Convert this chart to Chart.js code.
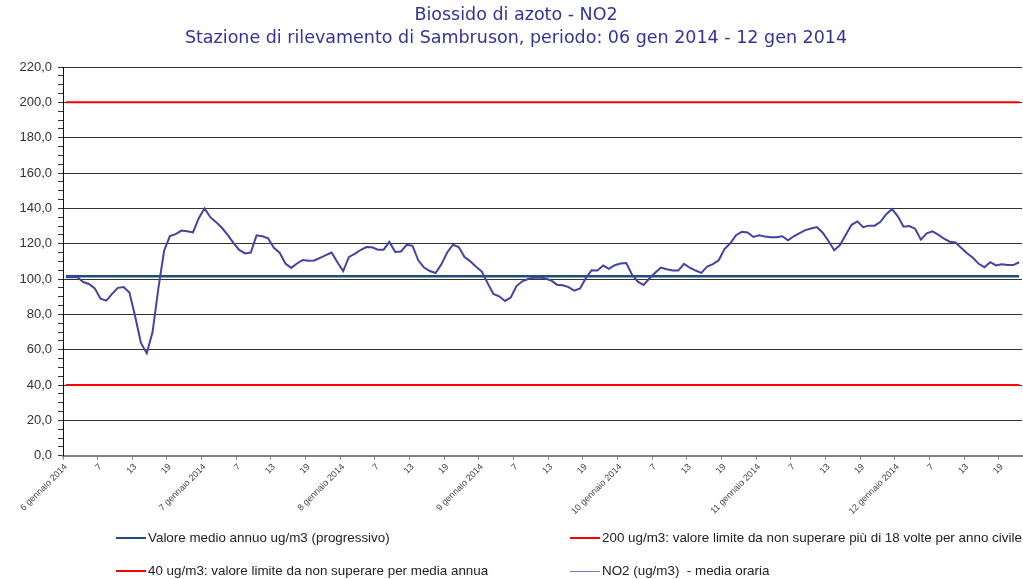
<!DOCTYPE html>
<html>
<head>
<meta charset="utf-8">
<script src="https://cdn.jsdelivr.net/npm/chart.js@4"></script>
<style>
  body { margin: 0; background: #fff; }
  #wrap { position: relative; width: 1023px; height: 579px; overflow: hidden; }
  #title { position: absolute; left: 0; top: 3px; width: 1032px; text-align: center;
           font-family: "DejaVu Sans", sans-serif; font-size: 17.5px; line-height: 23px; color: #333399; }
  .leg { position: absolute; font-family: "Liberation Sans", Arial, sans-serif; font-size: 13.4px;
         color: #222; white-space: nowrap; line-height: 16px; }
  .leg i { position: absolute; top: 7px; height: 2px; width: 30px; }
</style>
</head>
<body>
<div id="wrap">
  <canvas id="chart" width="1023" height="579"></canvas>
  <div id="title">Biossido di azoto - NO2<br>Stazione di rilevamento di Sambruson, periodo: 06 gen 2014 - 12 gen 2014</div>
  <div class="leg" style="left:116px;top:530px;"><i style="left:0;background:#1F4E79;"></i><span style="margin-left:32px;">Valore medio annuo ug/m3 (progressivo)</span></div>
  <div class="leg" style="left:570px;top:530px;"><i style="left:0;background:#FF0000;"></i><span style="margin-left:32px;">200 ug/m3: valore limite da non superare più di 18 volte per anno civile</span></div>
  <div class="leg" style="left:116px;top:563px;"><i style="left:0;background:#FF0000;"></i><span style="margin-left:32px;">40 ug/m3: valore limite da non superare per media annua</span></div>
  <div class="leg" style="left:570px;top:563px;"><i style="left:0;background:#7A7AC0;height:1px;top:8px;"></i><span style="margin-left:32px;">NO2 (ug/m3)&nbsp; - media oraria</span></div>
</div>
<script>
const days = ['6 gennaio 2014', '7 gennaio 2014', '8 gennaio 2014', '9 gennaio 2014',
              '10 gennaio 2014', '11 gennaio 2014', '12 gennaio 2014'];

// NO2 media oraria, one value per hour starting 6 gen 01:00
const no2 = [
    101, 101, 101, 98.3, 97.2, 94.7, 88.9, 87.8, 91.6, 95, 95.5, 92.3,
    78.7, 63.7, 58, 70, 94.5, 116, 124.3, 125.4, 127.4, 127, 126.4, 134.4,
    140, 135, 132.2, 129, 125, 120.5, 116.5, 114.5, 115, 124.7, 124.2, 123,
    117.7, 114.9, 108.8, 106.3, 108.8, 110.8, 110.4, 110.5, 112, 113.5, 115, 109.5,
    104.5, 112.5, 114.2, 116.4, 118.1, 118, 116.6, 116.6, 121, 115.3, 115.6, 119.4,
    118.8, 110.6, 106.5, 104.5, 103.4, 108.3, 115, 119.4, 118.1, 112.4, 110, 107,
    104.2, 97.7, 91.5, 90.2, 87.6, 89.5, 96, 98.7, 100, 100.7, 100.8, 100.3,
    99.2, 96.8, 96.5, 95.4, 93.4, 94.7, 100.5, 105, 104.8, 107.6, 105.7, 107.8,
    108.8, 109, 102.5, 98.5, 96.6, 100.3, 103.5, 106.5, 105.5, 104.8, 104.8, 108.6,
    106.4, 104.8, 103.5, 107, 108.4, 110.6, 117, 120.2, 124.8, 126.7, 126.3, 123.8,
    124.8, 124, 123.6, 123.7, 124.2, 121.9, 124.2, 126, 127.7, 128.6, 129.4, 126.2,
    121.5, 116.3, 119.2, 125, 130.7, 132.6, 129.3, 130.2, 130.2, 132.4, 136.7, 139.6,
    135.5, 129.6, 130, 128.5, 122.3, 125.9, 127, 125.1, 122.8, 121.1, 120.7, 117.5,
    114.6, 112, 108.6, 106.7, 109.5, 107.7, 108.4, 108, 107.9, 109.5
];

const annualMean = 101.5;
const limitHourly = 200;
const limitAnnual = 40;

const labels = no2.map((v, i) => i % 24 === 0 ? days[i / 24] : String(i % 24 + 1));

new Chart(document.getElementById('chart'), {
    type: 'line',
    data: {
        labels: labels,
        datasets: [
            { data: no2, borderColor: '#4444A0', borderWidth: 2, pointRadius: 0, tension: 0 },
            { data: labels.map(() => annualMean), borderColor: '#1F4E79', borderWidth: 2.5, pointRadius: 0 },
            { data: labels.map(() => limitHourly), borderColor: '#FF0000', borderWidth: 2, pointRadius: 0 },
            { data: labels.map(() => limitAnnual), borderColor: '#FF0000', borderWidth: 2, pointRadius: 0 }
        ]
    },
    options: {
        responsive: false,
        animation: false,
        layout: { padding: { top: 67, right: 1, left: 0, bottom: 0 } },
        plugins: { legend: { display: false }, tooltip: { enabled: false } },
        scales: {
            x: {
                offset: true,
                grid: {
                    offset: true,
                    drawOnChartArea: false,
                    tickLength: 4,
                    tickColor: ctx => ctx.index % 6 === 0 ? '#808080' : 'rgba(0,0,0,0)'
                },
                border: { color: '#808080', width: 2 },
                ticks: {
                    autoSkip: false,
                    minRotation: 45,
                    maxRotation: 45,
                    padding: 2,
                    color: '#444',
                    font: { family: 'Liberation Sans', size: 9 },
                    callback: function (v, i) { return i % 6 === 0 ? this.getLabelForValue(v) : ''; }
                },
                afterFit: s => { s.height = 123.3; s.paddingRight = 0; s.paddingLeft = 0; }
            },
            y: {
                min: 0,
                max: 220,
                grid: {
                    color: ctx => ctx.tick && ctx.tick.value % 20 === 0 ? '#333' : 'rgba(0,0,0,0)',
                    tickColor: '#333',
                    tickLength: 5
                },
                border: { color: '#111', width: 1 },
                ticks: {
                    stepSize: 5,
                    autoSkip: false,
                    padding: 6,
                    color: '#333',
                    font: { family: 'Liberation Sans', size: 13 },
                    callback: v => v % 20 === 0 ? v.toFixed(1).replace('.', ',') : ''
                },
                afterFit: s => { s.width = 63; }
            }
        }
    }
});
</script>
</body>
</html>
